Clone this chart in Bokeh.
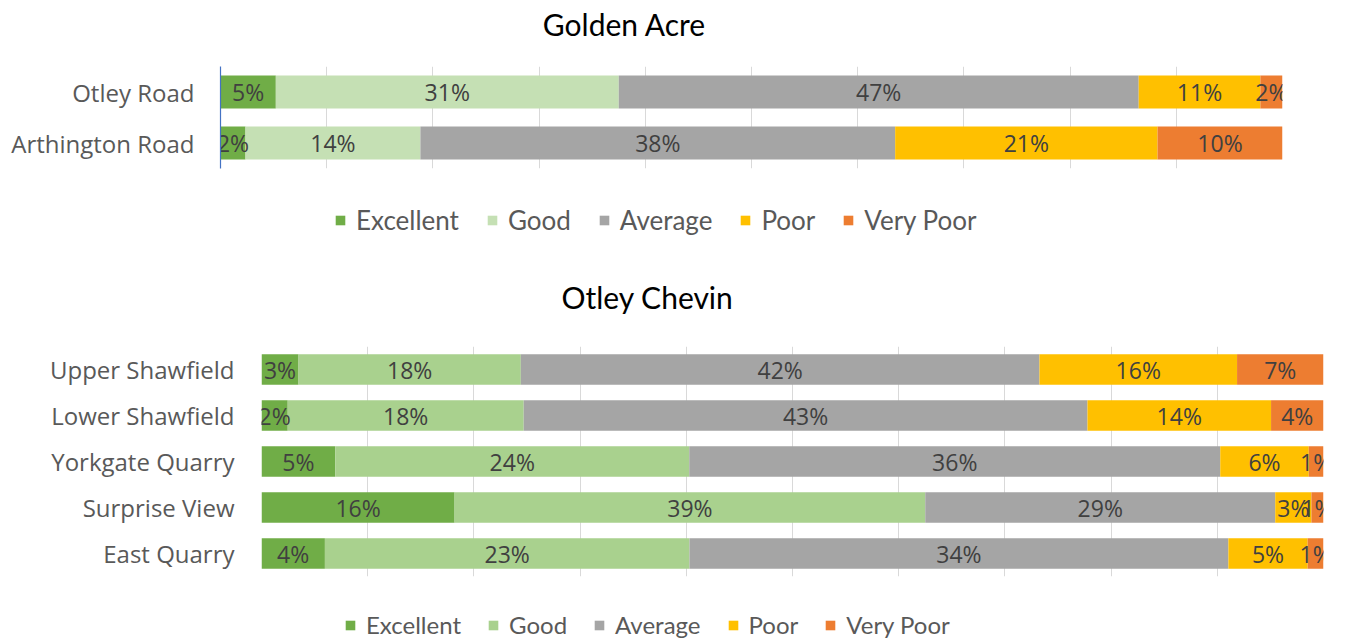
from bokeh.plotting import figure
from bokeh.models import (FactorRange, Range1d, FixedTicker, Legend, LegendItem,
                          ColumnDataSource, Label)
from bokeh.embed import file_html
from bokeh.resources import INLINE
from bokeh.core.properties import value

# ---------------- data ----------------
series = ["Excellent", "Good", "Average", "Poor", "Very Poor"]

ga_title = "Golden Acre"
ga_sites = ["Otley Road", "Arthington Road"]
ga_excellent = [5, 2]
ga_good = [31, 14]
ga_average = [47, 38]
ga_poor = [11, 21]
ga_very_poor = [2, 10]

oc_title = "Otley Chevin"
oc_sites = ["Upper Shawfield", "Lower Shawfield", "Yorkgate Quarry", "Surprise View", "East Quarry"]
oc_excellent = [3, 2, 5, 16, 4]
oc_good = [18, 18, 24, 39, 23]
oc_average = [42, 43, 36, 29, 34]
oc_poor = [16, 14, 6, 3, 5]
oc_very_poor = [7, 4, 1, 1, 1]

grid_ticks = [0, 10, 20, 30, 40, 50, 60, 70, 80, 90, 100]

ga_colors = ["#70AD47", "#C5E0B4", "#A5A5A5", "#FFC000", "#ED7D31"]
oc_colors = ["#70AD47", "#A9D18E", "#A5A5A5", "#FFC000", "#ED7D31"]

W = 1343


def blank_fig(height):
    # a strip whose frame covers the whole figure (pixel-sized ranges)
    q = figure(width=W, height=height, x_range=Range1d(0, W), y_range=Range1d(0, height),
               output_backend="svg", toolbar_location=None,
               x_axis_location=None, y_axis_location=None,
               min_border_left=0, min_border_right=0, min_border_top=0, min_border_bottom=0)
    q.outline_line_color = None
    q.grid.visible = False
    q.background_fill_color = "white"
    q.border_fill_color = "white"
    return q


def add_title(q, text, x, y):
    q.add_layout(Label(x=x, y=y, text=text, text_align="center", text_baseline="middle",
                       text_font="Lato", text_font_size="30px", text_color="#000000"))


def add_legend(q, colors, loc, font_size, spacing):
    items = []
    for name, c in zip(series, colors):
        r = q.hbar(y=[float("nan")], right=[float("nan")], height=1, color=c, line_color=None)
        items.append(LegendItem(label=name, renderers=[r]))
    leg = Legend(items=items, orientation="horizontal", location=loc,
                 glyph_width=12, glyph_height=12, label_standoff=10, spacing=spacing,
                 padding=0, margin=0, border_line_color=None, background_fill_alpha=0,
                 label_text_font="Lato", label_text_font_size=font_size,
                 label_text_color="#595959", label_height=26)
    q.add_layout(leg, "center")


def make_chart(sites, cols, colors, height, mb_left, mb_right, mb_top, mb_bottom,
               axis_color, label_standoff, bar_h):
    totals = [sum(v) for v in zip(*cols)]
    data = {"site": sites}
    keys = []
    for name, vals in zip(series, cols):
        k = name.replace(" ", "_")
        keys.append(k)
        data[k] = [100.0 * v / t for v, t in zip(vals, totals)]
    src = ColumnDataSource(data)

    p = figure(width=W, height=height, y_range=FactorRange(factors=list(reversed(sites))),
               x_range=Range1d(0, 100), output_backend="svg", toolbar_location=None,
               min_border_left=mb_left, min_border_right=mb_right,
               min_border_top=mb_top, min_border_bottom=mb_bottom)
    p.outline_line_color = None
    p.background_fill_color = "white"
    p.border_fill_color = "white"

    p.hbar_stack(keys, y="site", height=bar_h, color=colors, line_color=None, source=src)

    # labels centred in each segment
    lx, ly, lt = [], [], []
    for i, s in enumerate(sites):
        cum = 0.0
        for k, vals in zip(keys, cols):
            w = data[k][i]
            lx.append(cum + w / 2.0)
            ly.append(s)
            lt.append(f"{vals[i]}%")
            cum += w
    p.text(x=lx, y=ly, text=lt, text_align="center", text_baseline="middle",
           text_font=value("Open Sans"), text_font_size="23px", text_color="#404040")

    p.xaxis.visible = False
    p.xgrid.ticker = FixedTicker(ticks=grid_ticks)
    p.xgrid.grid_line_color = "#D9D9D9"
    p.xgrid.grid_line_width = 1
    p.ygrid.grid_line_color = None

    ya = p.yaxis[0]
    ya.axis_line_color = axis_color
    ya.axis_line_width = 1.2
    ya.major_tick_line_color = None
    ya.minor_tick_line_color = None
    ya.major_label_text_font = "Open Sans"
    ya.major_label_text_font_size = "24px"
    ya.major_label_text_color = "#595959"
    ya.major_label_standoff = label_standoff
    return p


ga_cols = [ga_excellent, ga_good, ga_average, ga_poor, ga_very_poor]
oc_cols = [oc_excellent, oc_good, oc_average, oc_poor, oc_very_poor]

# strip 1: title of the first chart
t1 = blank_fig(50)
add_title(t1, ga_title, 624, 27)

# chart 1
p1 = make_chart(ga_sites, ga_cols, ga_colors, height=132,
                mb_left=220, mb_right=61, mb_top=16, mb_bottom=14,
                axis_color="#4472C4", label_standoff=20, bar_h=0.65)

# strip 2: legend of chart 1 + title of chart 2
l1 = blank_fig(137)
add_legend(l1, ga_colors, (334, 83), "26px", 27)
add_title(l1, oc_title, 647, 23)

# chart 2
p2 = make_chart(oc_sites, oc_cols, oc_colors, height=265,
                mb_left=261, mb_right=20, mb_top=27, mb_bottom=8,
                axis_color=None, label_standoff=21, bar_h=0.66)

# strip 3: legend of chart 2
l2 = blank_fig(55)
add_legend(l2, oc_colors, (344, 0), "24px", 26)

open("out.html", "w").write(file_html([t1, p1, l1, p2, l2], INLINE))
